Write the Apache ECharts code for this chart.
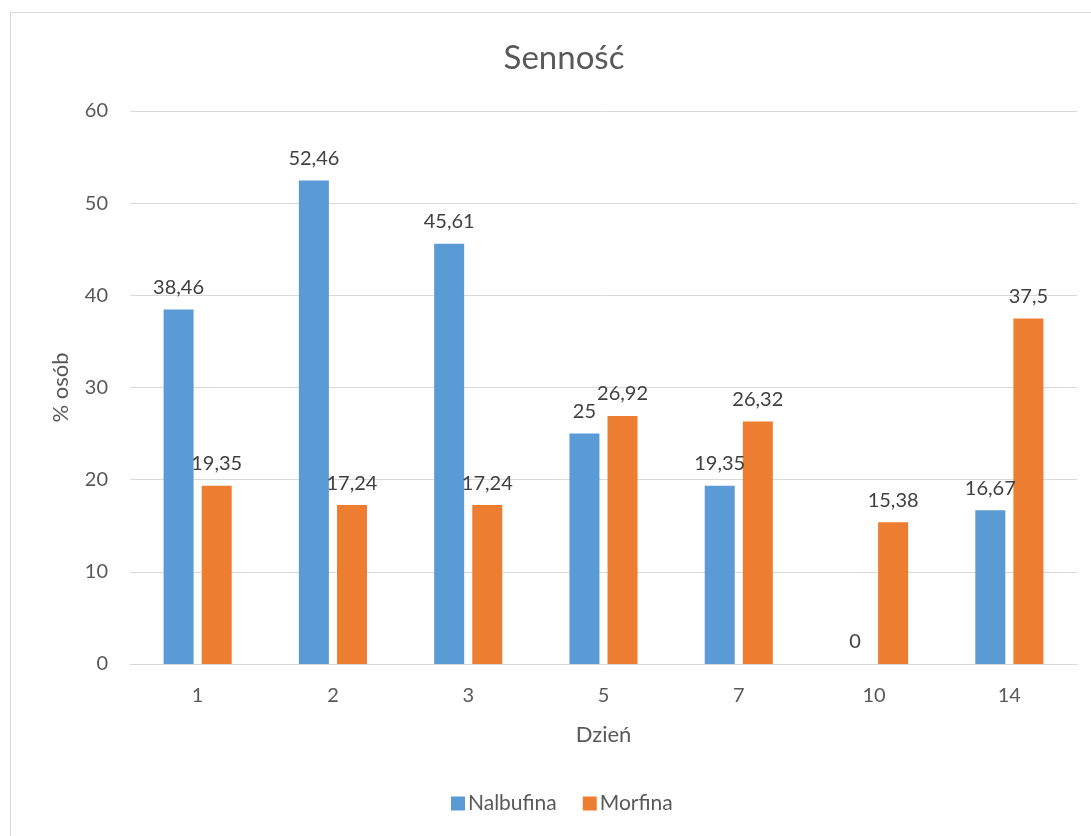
<!DOCTYPE html>
<html>
<head>
<meta charset="utf-8">
<script src="https://cdn.jsdelivr.net/npm/echarts@6/dist/echarts.min.js"></script>
<style>
  html, body { margin: 0; padding: 0; background: #fff; }
  #chart { width: 1091px; height: 836px; }
</style>
</head>
<body>
<div id="chart"></div>
<script>
const days = ['1', '2', '3', '5', '7', '10', '14'];
const nalbufina = [38.46, 52.46, 45.61, 25, 19.35, 0, 16.67];
const morfina = [19.35, 17.24, 17.24, 26.92, 26.32, 15.38, 37.5];
const seriesNames = ['Nalbufina', 'Morfina'];
const seriesColors = ['#5b9bd5', '#ed7d31'];

const FONT = 'Lato, "Open Sans", sans-serif';
const fmt = v => String(v).replace('.', ',');

const chart = echarts.init(document.getElementById('chart'));

function barSeries(name, data, color) {
  return {
    name: name,
    type: 'bar',
    data: data,
    barWidth: 30,
    barGap: '27%',
    itemStyle: { color: color },
    label: {
      show: true,
      position: 'top',
      distance: 12,
      color: '#404040',
      fontFamily: FONT,
      fontSize: 20,
      formatter: p => fmt(p.value)
    }
  };
}

chart.setOption({
  backgroundColor: '#fff',
  animation: false,
  textStyle: { fontFamily: FONT },
  graphic: [{
    type: 'rect',
    shape: { x: 10.5, y: 12.5, width: 1100, height: 900 },
    style: { fill: 'none', stroke: '#d9d9d9', lineWidth: 1 },
    silent: true,
    z: -1
  }],
  title: {
    text: 'Senność',
    left: 559,
    textAlign: 'center',
    top: 37,
    textStyle: { fontFamily: FONT, fontSize: 33, fontWeight: 'normal', color: '#595959' }
  },
  legend: {
    data: seriesNames,
    bottom: 17,
    left: 446,
    itemWidth: 14,
    itemHeight: 14,
    itemGap: 26,
    icon: 'rect',
    textStyle: { fontFamily: FONT, fontSize: 21, color: '#595959', padding: [0, 0, 0, -2] }
  },
  grid: { left: 130, right: 14, top: 111, bottom: 172 },
  xAxis: {
    type: 'category',
    data: days,
    name: 'Dzień',
    nameLocation: 'middle',
    nameGap: 60,
    nameTextStyle: { fontFamily: FONT, fontSize: 22, color: '#595959' },
    axisLine: { lineStyle: { color: '#d9d9d9', width: 1 } },
    axisTick: { show: false },
    axisLabel: { fontFamily: FONT, fontSize: 20, color: '#595959', margin: 22 },
  },
  yAxis: {
    type: 'value',
    min: 0,
    max: 60,
    interval: 10,
    name: '% osób',
    nameLocation: 'middle',
    nameGap: 58,
    nameRotate: 90,
    nameTextStyle: { fontFamily: FONT, fontSize: 22, color: '#595959' },
    axisLine: { show: false },
    axisTick: { show: false },
    axisLabel: { fontFamily: FONT, fontSize: 20, color: '#595959', margin: 22 },
    splitLine: { lineStyle: { color: '#d9d9d9', width: 1 } }
  },
  series: [
    barSeries(seriesNames[0], nalbufina, seriesColors[0]),
    barSeries(seriesNames[1], morfina, seriesColors[1])
  ]
});
</script>
</body>
</html>
